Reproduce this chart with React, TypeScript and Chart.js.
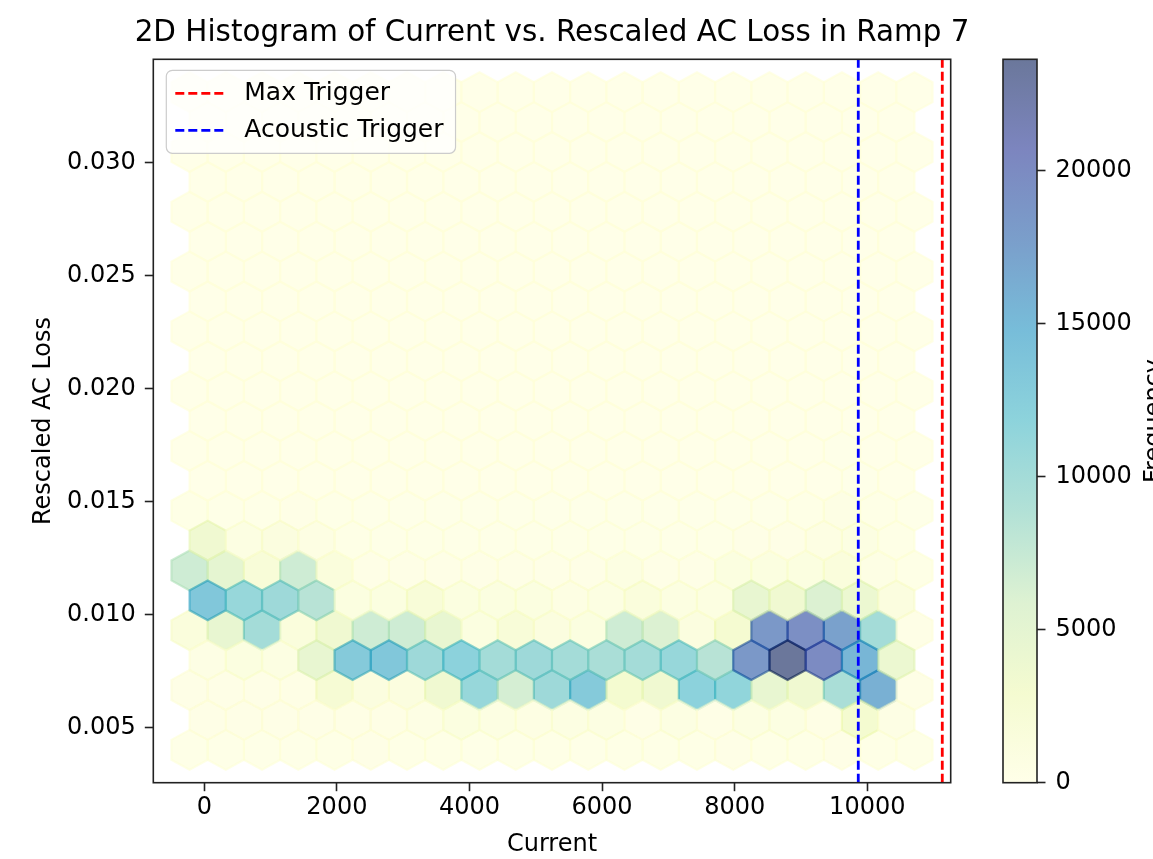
import React, { useEffect, useRef } from 'react';
import { Chart, registerables } from 'chart.js';

Chart.register(...registerables);

const FONT = "'DejaVu Sans', sans-serif";

const TITLE = '2D Histogram of Current vs. Rescaled AC Loss in Ramp 7';
const X_LABEL = 'Current';
const Y_LABEL = 'Rescaled AC Loss';
const CBAR_LABEL = 'Frequency';

const X_TICKS = [0, 2000, 4000, 6000, 8000, 10000];
const Y_TICKS = [0.005, 0.01, 0.015, 0.02, 0.025, 0.03];
const CBAR_TICKS = [0, 5000, 10000, 15000, 20000];

// axis view limits
const X_RANGE = [-769, 11258];
const Y_RANGE = [0.002566, 0.034575];

// extent of the binned data (hexbin grid is built on it)
const DATA_X_EXTENT = [-222, 10711];
const DATA_Y_EXTENT = [0.004021, 0.03312];
const GRID_NX = 20;

const MAX_TRIGGER = 11131;
const ACOUSTIC_TRIGGER = 9864;

// hexbin counts, lattice 1 (rows bottom -> top, 21 columns)
const LATTICE1_COUNTS = [
  [150, 150, 150, 150, 200, 250, 200, 200, 150, 150, 200, 150, 200, 200, 200, 250, 200, 200, 300, 200, 150],
  [300, 300, 300, 400, 2500, 1200, 1200, 3500, 11000, 6500, 10500, 13000, 3000, 3500, 12000, 11500, 4500, 3500, 9500, 16000, 300],
  [1500, 4500, 10000, 1500, 3500, 7000, 7000, 4500, 1000, 2000, 1200, 1000, 7000, 6000, 1200, 2800, 18500, 19500, 17500, 10000, 300],
  [7000, 5000, 2000, 7000, 1500, 300, 300, 300, 300, 300, 300, 300, 800, 300, 300, 1000, 1000, 1000, 1500, 500, 200],
  [200, 150, 150, 300, 150, 100, 100, 100, 100, 100, 100, 100, 100, 100, 100, 100, 100, 200, 500, 200, 100],
  [50, 50, 50, 50, 50, 50, 50, 50, 50, 50, 50, 50, 50, 50, 50, 50, 50, 50, 100, 50, 50],
  [20, 20, 20, 20, 20, 20, 20, 20, 20, 20, 20, 20, 20, 20, 20, 20, 20, 20, 20, 20, 20],
  [10, 10, 10, 10, 10, 10, 10, 10, 10, 10, 10, 10, 10, 10, 10, 10, 10, 10, 10, 10, 10],
  [0, 0, 0, 0, 0, 0, 0, 0, 0, 0, 0, 0, 0, 0, 0, 0, 0, 0, 0, 0, 0],
  [0, 0, 0, 0, 0, 0, 0, 0, 0, 0, 0, 0, 0, 0, 0, 0, 0, 0, 0, 0, 0],
  [0, 0, 0, 0, 0, 0, 0, 0, 0, 0, 0, 0, 0, 0, 0, 0, 0, 0, 0, 0, 0],
  [0, 0, 0, 0, 0, 0, 0, 0, 0, 0, 0, 0, 0, 0, 0, 0, 0, 0, 0, 0, 0],
];

// hexbin counts, lattice 2 (offset rows bottom -> top, 20 columns)
const LATTICE2_COUNTS = [
  [300, 300, 300, 300, 400, 400, 500, 1000, 800, 700, 800, 800, 300, 800, 300, 800, 800, 400, 3000, 500],
  [500, 1000, 800, 4500, 13000, 13500, 10500, 12000, 10000, 10500, 10000, 9500, 10000, 11000, 8500, 18500, 23650, 20000, 15500, 4000],
  [13500, 11000, 10500, 8500, 1000, 1000, 2000, 1000, 1000, 1000, 600, 800, 1500, 900, 900, 4500, 3500, 6000, 4000, 1200],
  [3500, 800, 1200, 600, 200, 150, 150, 150, 150, 150, 150, 150, 150, 150, 150, 300, 300, 600, 800, 200],
  [80, 60, 60, 60, 50, 50, 50, 50, 50, 50, 50, 50, 50, 50, 50, 50, 50, 80, 100, 50],
  [30, 30, 30, 30, 30, 30, 30, 30, 30, 30, 30, 30, 30, 30, 30, 30, 30, 30, 30, 30],
  [10, 10, 10, 10, 10, 10, 10, 10, 10, 10, 10, 10, 10, 10, 10, 10, 10, 10, 10, 10],
  [0, 0, 0, 0, 0, 0, 0, 0, 0, 0, 0, 0, 0, 0, 0, 0, 0, 0, 0, 0],
  [0, 0, 0, 0, 0, 0, 0, 0, 0, 0, 0, 0, 0, 0, 0, 0, 0, 0, 0, 0],
  [0, 0, 0, 0, 0, 0, 0, 0, 0, 0, 0, 0, 0, 0, 0, 0, 0, 0, 0, 0],
  [0, 0, 0, 0, 0, 0, 0, 0, 0, 0, 0, 0, 0, 0, 0, 0, 0, 0, 0, 0],
];

const YLGNBU = ['#ffffd9', '#edf8b1', '#c7e9b4', '#7fcdbb', '#41b6c4', '#1d91c0', '#225ea8', '#253494', '#081d58'];
const ALPHA = 0.6;
const HEX_VERTS = [[0.5, -0.5], [0.5, 0.5], [0, 1], [-0.5, 0.5], [-0.5, -0.5], [0, -1]];

function hexToRgb(h: string) {
  const n = parseInt(h.slice(1), 16);
  return [(n >> 16) & 255, (n >> 8) & 255, n & 255];
}
const STOPS = YLGNBU.map(hexToRgb);
function cmap(t: number, alpha: number) {
  const tt = Math.min(1, Math.max(0, t));
  const f = tt * (STOPS.length - 1);
  const i = Math.min(STOPS.length - 2, Math.floor(f));
  const u = f - i;
  const c = STOPS[i].map((v, k) => Math.round(v + (STOPS[i + 1][k] - v) * u));
  return `rgba(${c[0]},${c[1]},${c[2]},${alpha})`;
}

const NY = Math.floor(GRID_NX / Math.sqrt(3));
const SX = (DATA_X_EXTENT[1] - DATA_X_EXTENT[0]) / GRID_NX;
const SY = (DATA_Y_EXTENT[1] - DATA_Y_EXTENT[0]) / NY;
const VMAX = Math.max(...LATTICE1_COUNTS.flat(), ...LATTICE2_COUNTS.flat());

function buildHexPoints() {
  const pts: { x: number; y: number; c: number }[] = [];
  LATTICE1_COUNTS.forEach((row, j) =>
    row.forEach((c, i) => pts.push({ x: DATA_X_EXTENT[0] + i * SX, y: DATA_Y_EXTENT[0] + j * SY, c }))
  );
  LATTICE2_COUNTS.forEach((row, j) =>
    row.forEach((c, i) =>
      pts.push({ x: DATA_X_EXTENT[0] + (i + 0.5) * SX, y: DATA_Y_EXTENT[0] + (j + 0.5) * SY, c })
    )
  );
  return pts;
}

const hexbinPlugin = {
  id: 'hexbinDraw',
  beforeDatasetsDraw(chart: any) {
    const ds = chart.data.datasets.find((d: any) => d.hexbin);
    if (!ds) return;
    const xs = chart.scales.x;
    const ys = chart.scales.y;
    const ctx = chart.ctx;
    const a = chart.chartArea;
    ctx.save();
    ctx.beginPath();
    ctx.rect(a.left, a.top, a.right - a.left, a.bottom - a.top);
    ctx.clip();
    for (const p of ds.data) {
      const col = cmap(p.c / VMAX, ALPHA);
      ctx.beginPath();
      HEX_VERTS.forEach(([dx, dy], k) => {
        const px = xs.getPixelForValue(p.x + dx * SX);
        const py = ys.getPixelForValue(p.y + (dy * SY) / 3);
        if (k === 0) ctx.moveTo(px, py);
        else ctx.lineTo(px, py);
      });
      ctx.closePath();
      ctx.fillStyle = col;
      ctx.fill();
      ctx.strokeStyle = col;
      ctx.lineWidth = 2.2;
      ctx.stroke();
    }
    ctx.restore();
  },
};

function roundRectPath(ctx: CanvasRenderingContext2D, x: number, y: number, w: number, h: number, r: number) {
  ctx.beginPath();
  ctx.moveTo(x + r, y);
  ctx.lineTo(x + w - r, y);
  ctx.arcTo(x + w, y, x + w, y + r, r);
  ctx.lineTo(x + w, y + h - r);
  ctx.arcTo(x + w, y + h, x + w - r, y + h, r);
  ctx.lineTo(x + r, y + h);
  ctx.arcTo(x, y + h, x, y + h - r, r);
  ctx.lineTo(x, y + r);
  ctx.arcTo(x, y, x + r, y, r);
  ctx.closePath();
}

const frameLegendPlugin = {
  id: 'frameLegend',
  afterDatasetsDraw(chart: any) {
    const ctx = chart.ctx as CanvasRenderingContext2D;
    const a = chart.chartArea;
    // axes frame
    ctx.save();
    ctx.strokeStyle = '#222';
    ctx.lineWidth = 1.6;
    ctx.strokeRect(a.left, a.top, a.right - a.left, a.bottom - a.top);
    ctx.restore();

    // title, centred over the axes box
    ctx.save();
    ctx.font = `29.4px ${FONT}`;
    ctx.fillStyle = '#000';
    ctx.textAlign = 'center';
    ctx.textBaseline = 'middle';
    ctx.fillText(TITLE, (a.left + a.right) / 2, a.top - 26);
    ctx.restore();

    // legend
    const items = chart.data.datasets.filter((d: any) => d.showLine);
    const fs = 25;
    ctx.save();
    ctx.font = `${fs}px ${FONT}`;
    const boxL = a.left + 13;
    const boxT = a.top + 11;
    const padX = 9;
    const handleLen = 52;
    const gap = 17;
    const rowH = 37;
    const firstRow = 23;
    const textW = Math.max(...items.map((d: any) => ctx.measureText(d.label).width));
    const boxW = padX + handleLen + gap + textW + 12;
    const boxH = firstRow * 2 + rowH * (items.length - 1);
    roundRectPath(ctx, boxL, boxT, boxW, boxH, 6);
    ctx.fillStyle = 'rgba(255,255,255,0.8)';
    ctx.fill();
    ctx.strokeStyle = '#cccccc';
    ctx.lineWidth = 1.2;
    ctx.stroke();
    items.forEach((d: any, k: number) => {
      const y = boxT + firstRow + k * rowH;
      ctx.setLineDash(d.borderDash || []);
      ctx.strokeStyle = d.borderColor;
      ctx.lineWidth = d.borderWidth;
      ctx.beginPath();
      ctx.moveTo(boxL + padX, y);
      ctx.lineTo(boxL + padX + handleLen, y);
      ctx.stroke();
      ctx.setLineDash([]);
      ctx.fillStyle = '#000';
      ctx.textAlign = 'left';
      ctx.textBaseline = 'middle';
      ctx.fillText(d.label, boxL + padX + handleLen + gap, y);
    });
    ctx.restore();
  },
};

const colorbarPlugin = {
  id: 'colorbarDraw',
  beforeDatasetsDraw(chart: any) {
    const ctx = chart.ctx as CanvasRenderingContext2D;
    const a = chart.chartArea;
    ctx.save();
    const g = ctx.createLinearGradient(0, a.bottom, 0, a.top);
    STOPS.forEach((c, k) => g.addColorStop(k / (STOPS.length - 1), `rgba(${c[0]},${c[1]},${c[2]},${ALPHA})`));
    ctx.fillStyle = g;
    ctx.fillRect(a.left, a.top, a.right - a.left, a.bottom - a.top);
    ctx.strokeStyle = '#222';
    ctx.lineWidth = 1.6;
    ctx.strokeRect(a.left, a.top, a.right - a.left, a.bottom - a.top);
    // colorbar label, rotated to read bottom -> top
    ctx.translate(a.right + 118, (a.top + a.bottom) / 2);
    ctx.rotate(-Math.PI / 2);
    ctx.font = `24px ${FONT}`;
    ctx.fillStyle = '#000';
    ctx.textAlign = 'center';
    ctx.textBaseline = 'middle';
    ctx.fillText(CBAR_LABEL, 0, 0);
    ctx.restore();
  },
};

const tickFont = { family: FONT, size: 24 };

export default function App() {
  const mainRef = useRef<HTMLCanvasElement>(null);
  const cbarRef = useRef<HTMLCanvasElement>(null);

  useEffect(() => {
    if (!mainRef.current || !cbarRef.current) return;
    const main = new Chart(mainRef.current, {
      type: 'scatter',
      data: {
        datasets: [
          { label: 'hexbin', data: buildHexPoints(), pointRadius: 0, pointHoverRadius: 0, showLine: false, hexbin: true } as any,
          {
            label: 'Max Trigger',
            data: [{ x: MAX_TRIGGER, y: Y_RANGE[0] }, { x: MAX_TRIGGER, y: Y_RANGE[1] }],
            showLine: true,
            borderColor: '#ff0000',
            borderWidth: 2.8,
            borderDash: [9, 4],
            pointRadius: 0,
          },
          {
            label: 'Acoustic Trigger',
            data: [{ x: ACOUSTIC_TRIGGER, y: Y_RANGE[0] }, { x: ACOUSTIC_TRIGGER, y: Y_RANGE[1] }],
            showLine: true,
            borderColor: '#0000ff',
            borderWidth: 2.8,
            borderDash: [9, 4],
            pointRadius: 0,
          },
        ],
      },
      options: {
        animation: false,
        responsive: false,
        devicePixelRatio: 1,
        events: [],
        layout: { padding: { left: 0, top: 59.3, right: 1000 - 950.7, bottom: 0 } },
        plugins: {
          legend: { display: false },
          tooltip: { enabled: false },
          title: { display: false },
        },
        scales: {
          x: {
            type: 'linear',
            min: X_RANGE[0],
            max: X_RANGE[1],
            afterBuildTicks: (s: any) => {
              s.ticks = X_TICKS.map((value) => ({ value }));
            },
            afterFit: (s: any) => {
              s.height = 859 - 782.7;
            },
            ticks: { callback: (v: any) => String(v), font: tickFont, color: '#000', padding: 2, maxRotation: 0, autoSkip: false },
            grid: { display: true, drawOnChartArea: false, drawTicks: true, tickLength: 8.5, tickWidth: 1.6, tickColor: '#222' },
            border: { display: false },
            title: { display: true, text: X_LABEL, color: '#000', font: { family: FONT, size: 24, lineHeight: 1.0 }, padding: { top: 0, bottom: 2 } },
          },
          y: {
            type: 'linear',
            min: Y_RANGE[0],
            max: Y_RANGE[1],
            afterBuildTicks: (s: any) => {
              s.ticks = Y_TICKS.map((value) => ({ value }));
            },
            afterFit: (s: any) => {
              s.width = 153.3;
            },
            ticks: { callback: (v: any) => Number(v).toFixed(3), font: tickFont, color: '#000', padding: 9, autoSkip: false },
            grid: { display: true, drawOnChartArea: false, drawTicks: true, tickLength: 8.5, tickWidth: 1.6, tickColor: '#222' },
            border: { display: false },
            title: { display: true, text: Y_LABEL, color: '#000', font: tickFont, padding: { top: 29.5, bottom: 0 } },
          },
        },
      } as any,
      plugins: [hexbinPlugin, frameLegendPlugin],
    });

    const cbar = new Chart(cbarRef.current, {
      type: 'scatter',
      data: { datasets: [] },
      options: {
        animation: false,
        responsive: false,
        devicePixelRatio: 1,
        events: [],
        layout: { padding: { left: 3, top: 59.3, right: 0, bottom: 859 - 782.7 } },
        plugins: { legend: { display: false }, tooltip: { enabled: false }, title: { display: false } },
        scales: {
          x: { display: false, min: 0, max: 1 },
          y: {
            type: 'linear',
            position: 'right',
            min: 0,
            max: VMAX,
            afterBuildTicks: (s: any) => {
              s.ticks = CBAR_TICKS.map((value) => ({ value }));
            },
            afterFit: (s: any) => {
              s.width = 180 - 3 - 34;
            },
            ticks: { callback: (v: any) => String(v), font: tickFont, color: '#000', padding: 10, autoSkip: false },
            grid: { display: true, drawOnChartArea: false, drawTicks: true, tickLength: 8.5, tickWidth: 1.6, tickColor: '#222' },
            border: { display: false },
          },
        },
      } as any,
      plugins: [colorbarPlugin],
    });

    return () => {
      main.destroy();
      cbar.destroy();
    };
  }, []);

  return (
    <div style={{ position: 'fixed', left: 0, top: 0, width: 1153, height: 859, overflow: 'hidden', background: '#fff' }}>
      <canvas ref={mainRef} width={1000} height={859} style={{ position: 'absolute', left: 0, top: 0 }} />
      <canvas ref={cbarRef} width={180} height={859} style={{ position: 'absolute', left: 1000, top: 0 }} />
    </div>
  );
}
